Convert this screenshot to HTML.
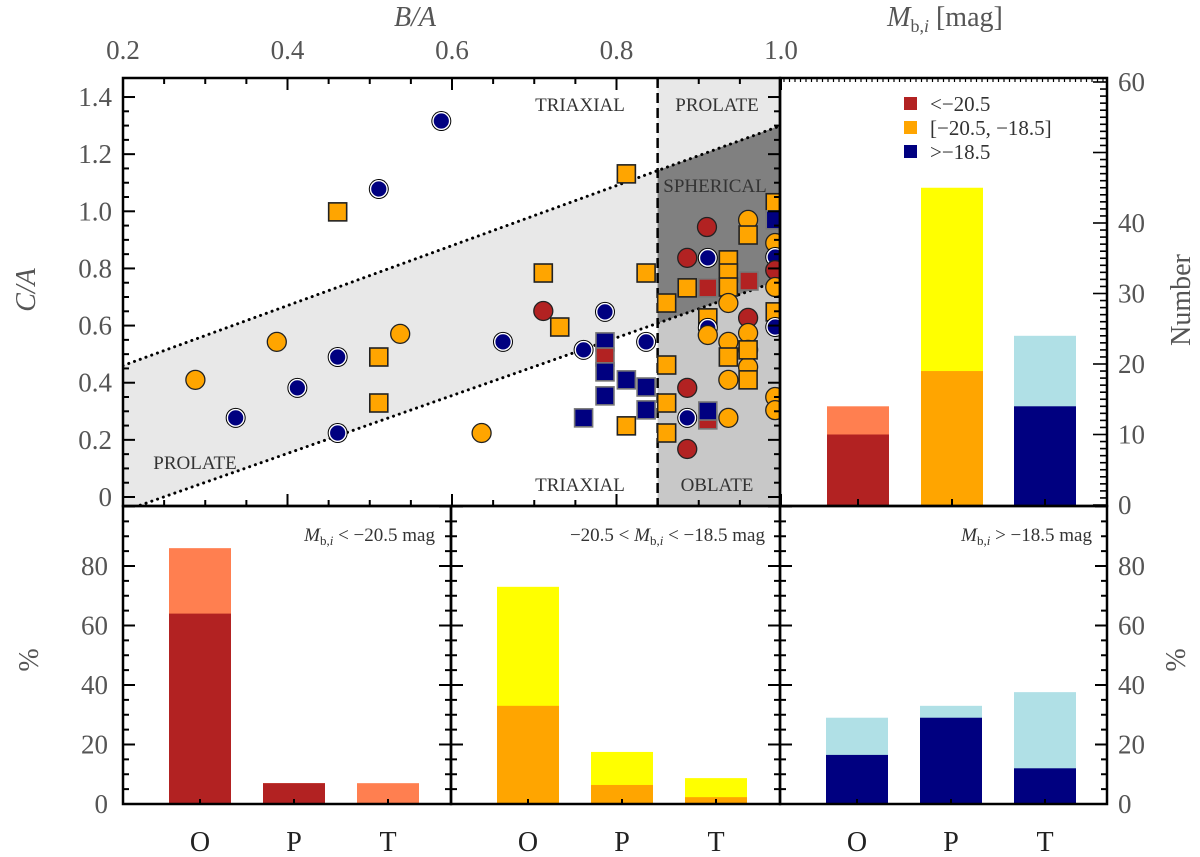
<!DOCTYPE html>
<html><head><meta charset="utf-8">
<style>
html,body{margin:0;padding:0;background:#fff;}
svg{display:block;font-family:"Liberation Serif",serif;}
</style></head>
<body>
<svg id="chart" width="1200" height="857" viewBox="0 0 1200 857" xmlns="http://www.w3.org/2000/svg"></svg>
<script>
// ---------- data ----------
const scatterBA = [0.587,0.511,0.461,0.412,0.337,0.461,0.662,0.288,0.387,0.537,0.636,0.461,0.511,0.511,0.711,0.731,0.711,0.812,0.836,0.861,0.886,0.861,0.861,0.861,0.812,0.91,0.886,0.96,0.886,0.886,0.911,0.786,0.76,0.836,0.886,0.911,0.961,0.786,0.786,0.786,0.812,0.836,0.786,0.76,0.836,0.911,0.911,0.96,0.96,0.936,0.936,0.936,0.936,0.911,0.911,0.911,0.936,0.936,0.936,0.936,0.96,0.96,0.96,0.96,0.96,0.993,0.993,0.993,0.993,0.993,0.993,0.993,0.993,0.993,0.993];
const scatterCA = [1.316,1.078,0.49,0.382,0.277,0.224,0.543,0.41,0.543,0.571,0.224,0.998,0.49,0.329,0.784,0.595,0.651,1.131,0.784,0.679,0.732,0.462,0.329,0.224,0.249,0.945,0.837,0.627,0.382,0.168,0.837,0.648,0.515,0.543,0.277,0.732,0.756,0.543,0.49,0.438,0.41,0.385,0.354,0.277,0.305,0.27,0.301,0.97,0.917,0.83,0.784,0.735,0.679,0.627,0.592,0.567,0.543,0.49,0.41,0.277,0.574,0.515,0.455,0.515,0.41,1.03,0.97,0.889,0.84,0.794,0.735,0.648,0.595,0.35,0.304];
const scatterCol = ['b','b','b','b','b','b','b','o','o','o','o','o','o','o','o','o','r','o','o','o','o','o','o','o','o','r','r','r','r','r','b','b','b','b','b','r','r','b','r','b','b','b','b','b','b','r','b','o','o','o','o','o','o','o','b','o','o','o','o','o','o','o','o','o','o','o','b','o','b','r','o','o','b','o','o'];
const scatterShape = ['c','c','c','c','c','c','c','c','c','c','c','s','s','s','s','s','c','s','s','s','s','s','s','s','s','c','c','c','c','c','c','c','c','c','c','s','s','s','s','s','s','s','s','s','s','s','s','c','s','s','s','s','c','s','c','c','c','s','c','c','c','c','c','s','s','s','s','c','c','c','c','s','c','c','c'];
const classes = ['O','P','T'];
const numBright = [10,19,14];
const numFaint = [14,45,24];
const numTicks = [0,10,20,30,40,60];
const pctBright1 = [64,7,0];  const pctFaint1 = [86,7,7];
const pctBright2 = [33,6.4,2.3]; const pctFaint2 = [73,17.5,8.7];
const pctBright3 = [16.5,29,12]; const pctFaint3 = [29,33,37.6];
const pctTicks = [0,20,40,60,80];
const baTicks = [0.2,0.4,0.6,0.8,1.0];
const caTicks = [0,0.2,0.4,0.6,0.8,1.0,1.2,1.4];

// ---------- helpers ----------
const NS='http://www.w3.org/2000/svg';
const svg=document.getElementById('chart');
function mk(tag,attrs,parent){const e=document.createElementNS(NS,tag);for(const k in attrs)e.setAttribute(k,attrs[k]);(parent||svg).appendChild(e);return e;}
function txt(s,x,y,size,fill,anchor,parent,extra){const t=mk('text',Object.assign({x:x,y:y,'font-size':size,fill:fill,'text-anchor':anchor||'middle'},extra||{}),parent);t.textContent=s;return t;}

const SX0=123,SX1=780,SY0=78,SY1=506;
const xBA=v=>SX0+(v-0.2)*822.5;
const yCA=v=>497-v*285.7;
const NX0=780,NX1=1107;
const yNum=v=>505-v*7.05;
const barX=[858,952,1045];
const xBar=i=>barX[i];
const PY0=506,PY1=804;
const yPct=v=>804-v*2.975;
const panelsX=[[123,451],[451,780],[780,1107]];
const xPct=(p,i)=>panelsX[p][0]+77+i*94;

const COL={r:'#b22222',o:'#ffa500',b:'#000080'};

// ---------- scatter panel ----------
const clip=mk('clipPath',{id:'sc'});mk('rect',{x:SX0,y:SY0,width:SX1-SX0,height:SY1-SY0},clip);
const g=mk('g',{'clip-path':'url(#sc)'});


const uA=[0.2,0.46],uB=[1.0,1.30],lA=[0.2,-0.05],lB=[1.0,0.76];
const up=v=>uA[1]+(v-0.2)*(uB[1]-uA[1])/0.8, lo=v=>lA[1]+(v-0.2)*(lB[1]-lA[1])/0.8;
const cut=0.85;
let p1=mk('polygon',{points:`${xBA(0.2)},${yCA(up(0.2))} ${xBA(cut)},${yCA(up(cut))} ${xBA(cut)},${yCA(lo(cut))} ${xBA(0.2)},${yCA(lo(0.2))}`,fill:'#e8e8e8'},g);

let p2=mk('rect',{x:xBA(cut),y:SY0,width:SX1-xBA(cut),height:SY1-SY0,fill:'#c8c8c8'},g);

let p3=mk('polygon',{points:`${xBA(cut)},${SY0} ${SX1},${SY0} ${SX1},${yCA(up(1))} ${xBA(cut)},${yCA(up(cut))}`,fill:'#e8e8e8'},g);

let p4=mk('polygon',{points:`${xBA(cut)},${yCA(up(cut))} ${SX1},${yCA(up(1))} ${SX1},${yCA(lo(1))} ${xBA(cut)},${yCA(lo(cut))}`,fill:'#808080'},g);

mk('line',{x1:xBA(0.2),y1:yCA(up(0.2)),x2:xBA(1),y2:yCA(up(1)),stroke:'#000','stroke-width':3,'stroke-dasharray':'0.1 6','stroke-linecap':'round'},g);
mk('line',{x1:xBA(0.2),y1:yCA(lo(0.2)),x2:xBA(1),y2:yCA(lo(1)),stroke:'#000','stroke-width':3,'stroke-dasharray':'0.1 6','stroke-linecap':'round'},g);
mk('line',{x1:xBA(cut),y1:SY0,x2:xBA(cut),y2:SY1,stroke:'#000','stroke-width':2.5,'stroke-dasharray':'10 5'},g);
[['TRIAXIAL',580,111],['PROLATE',717,111],['SPHERICAL',715,192],['TRIAXIAL',580,491],['OBLATE',717,491],['PROLATE',195,469]].forEach(a=>{const t=txt(a[0],a[1],a[2],19,'#333','middle',g);});
for(let i=0;i<scatterBA.length;i++){
  const x=xBA(scatterBA[i]),y=yCA(scatterCA[i]),c=COL[scatterCol[i]];
  let e;
  if(scatterShape[i]==='c'){
    if(scatterCol[i]==='b'){mk('circle',{cx:x,cy:y,r:10,fill:'#000'},g);e=mk('circle',{cx:x,cy:y,r:8.3,fill:c,stroke:'#fff','stroke-width':1.4},g);}
    else e=mk('circle',{cx:x,cy:y,r:9.5,fill:c,stroke:'#222','stroke-width':1.3},g);
  } else {
    e=mk('rect',{x:x-9,y:y-9,width:18,height:18,fill:c,stroke:scatterCol[i]==='o'?'#222':'#777','stroke-width':1.6},g);
  }
  
  
}
mk('rect',{x:SX0,y:SY0,width:SX1-SX0,height:SY1-SY0,fill:'none',stroke:'#000','stroke-width':2.5});
for(let v=0.2;v<=1.0001;v+=0.05){const x=xBA(v),maj=Math.abs(v*5-Math.round(v*5))<1e-6;mk('line',{x1:x,y1:SY0,x2:x,y2:SY0+(maj?12:6),stroke:'#000','stroke-width':2});mk('line',{x1:x,y1:SY1,x2:x,y2:SY1-(maj?12:6),stroke:'#000','stroke-width':2});}
for(let v=0;v<=1.45;v+=0.05){const y=yCA(v),maj=Math.abs(v*5-Math.round(v*5))<1e-6;mk('line',{x1:SX0,y1:y,x2:SX0+(maj?12:6),y2:y,stroke:'#000','stroke-width':2});mk('line',{x1:SX1,y1:y,x2:SX1-(maj?12:6),y2:y,stroke:'#000','stroke-width':2});}
baTicks.forEach(v=>{const t=txt(v.toFixed(1),xBA(v),59,27,'#555');});
caTicks.forEach(v=>{const t=txt(v===0?'0':v.toFixed(1),112,yCA(v)+9,27,'#555','end');});
let tt=txt('B/A',415,26,28,'#555','middle',null,{'font-style':'italic'});
tt=txt('C/A',0,0,28,'#555','middle',null,{'font-style':'italic',transform:'translate(35,290) rotate(-90)'});
tt=mk('text',{x:945,y:26,'font-size':28,fill:'#555','text-anchor':'middle'});tt.innerHTML='<tspan font-style="italic">M</tspan><tspan font-size="18" dy="6">b,<tspan font-style="italic">i</tspan></tspan><tspan dy="-6"> [mag]</tspan>';


// ---------- number histogram ----------
for(let i=0;i<3;i++){
  let r=mk('rect',{x:xBar(i)-31,y:yNum(numFaint[i]),width:62,height:yNum(0)-yNum(numFaint[i]),fill:['#ff7f50','#ffff00','#b0e0e6'][i]});
  
  r=mk('rect',{x:xBar(i)-31,y:yNum(numBright[i]),width:62,height:yNum(0)-yNum(numBright[i]),fill:[COL.r,COL.o,COL.b][i]});
  
}
mk('rect',{x:NX0,y:SY0,width:NX1-NX0,height:SY1-SY0,fill:'none',stroke:'#000','stroke-width':2.5});
for(let v=0;v<=60;v++){const y=yNum(v),maj=v%10===0;mk('line',{x1:NX1,y1:y,x2:NX1-(maj?14:7),y2:y,stroke:'#000','stroke-width':1.6});}
for(let x=NX0+4;x<NX1;x+=5.5){mk('line',{x1:x,y1:SY0,x2:x,y2:SY0+4,stroke:'#000','stroke-width':1.2});}
for(let i=0;i<3;i++)mk('line',{x1:xBar(i),y1:SY1,x2:xBar(i),y2:SY1-7,stroke:'#000','stroke-width':2});
numTicks.forEach(v=>{const t=txt(String(v),1118,yNum(v)+9,27,'#555','start');});
tt=txt('Number',0,0,28,'#555','middle',null,{transform:'translate(1190,300) rotate(-90)'});
[['<−20.5',COL.r],['[−20.5, −18.5]',COL.o],['>−18.5',COL.b]].forEach((a,i)=>{
  const y=103+i*24;
  const s=mk('rect',{x:904,y:y-6,width:13,height:13,fill:a[1]});
  const t=txt(a[0],930,y+8,21,'#333','start');
});

// ---------- percentage panels ----------
const pB=[pctBright1,pctBright2,pctBright3],pF=[pctFaint1,pctFaint2,pctFaint3];
const bcol=[[COL.r,'#ff7f50'],[COL.o,'#ffff00'],[COL.b,'#b0e0e6']];
for(let p=0;p<3;p++){
  for(let i=0;i<3;i++){
    let r=mk('rect',{x:xPct(p,i)-31,y:yPct(pF[p][i]),width:62,height:yPct(0)-yPct(pF[p][i]),fill:bcol[p][1]});
    
    if(pB[p][i]>0){r=mk('rect',{x:xPct(p,i)-31,y:yPct(pB[p][i]),width:62,height:yPct(0)-yPct(pB[p][i]),fill:bcol[p][0]});
    }
    mk('line',{x1:xPct(p,i),y1:PY1,x2:xPct(p,i),y2:PY1-5,stroke:'#000','stroke-width':2});
    const t=txt(classes[i],xPct(p,i),851,28,'#222');
  }
  const [a,b]=panelsX[p];
  mk('rect',{x:a,y:PY0,width:b-a,height:PY1-PY0,fill:'none',stroke:'#000','stroke-width':2.5});
  for(let v=0;v<=100;v+=5){const y=yPct(v),maj=v%20===0;mk('line',{x1:a,y1:y,x2:a+(maj?12:6),y2:y,stroke:'#000','stroke-width':2});mk('line',{x1:b,y1:y,x2:b-(maj?12:6),y2:y,stroke:'#000','stroke-width':2});}
}
pctTicks.forEach(v=>{let t=txt(String(v),108,yPct(v)+9,27,'#555','end');
  t=txt(String(v),1118,yPct(v)+9,27,'#555','start');});
tt=txt('%',0,0,28,'#555','middle',null,{transform:'translate(38,660) rotate(-90)'});
tt=txt('%',0,0,28,'#555','middle',null,{transform:'translate(1185,660) rotate(-90)'});
function ptitle(x,pre,post,name){const t=mk('text',{x:x,y:541,'font-size':19,fill:'#333','text-anchor':'end'});
  t.innerHTML=pre+'<tspan font-style="italic">M</tspan><tspan font-size="13" dy="4">b,<tspan font-style="italic">i</tspan></tspan><tspan dy="-4">'+post+'</tspan>';
  }
ptitle(435,'','  &lt;  −20.5  mag','panel-title-bright');
ptitle(765,'−20.5  &lt;  ','  &lt;  −18.5  mag','panel-title-mid');
ptitle(1092,'','  &gt;  −18.5  mag','panel-title-faint');
</script>
</body></html>
